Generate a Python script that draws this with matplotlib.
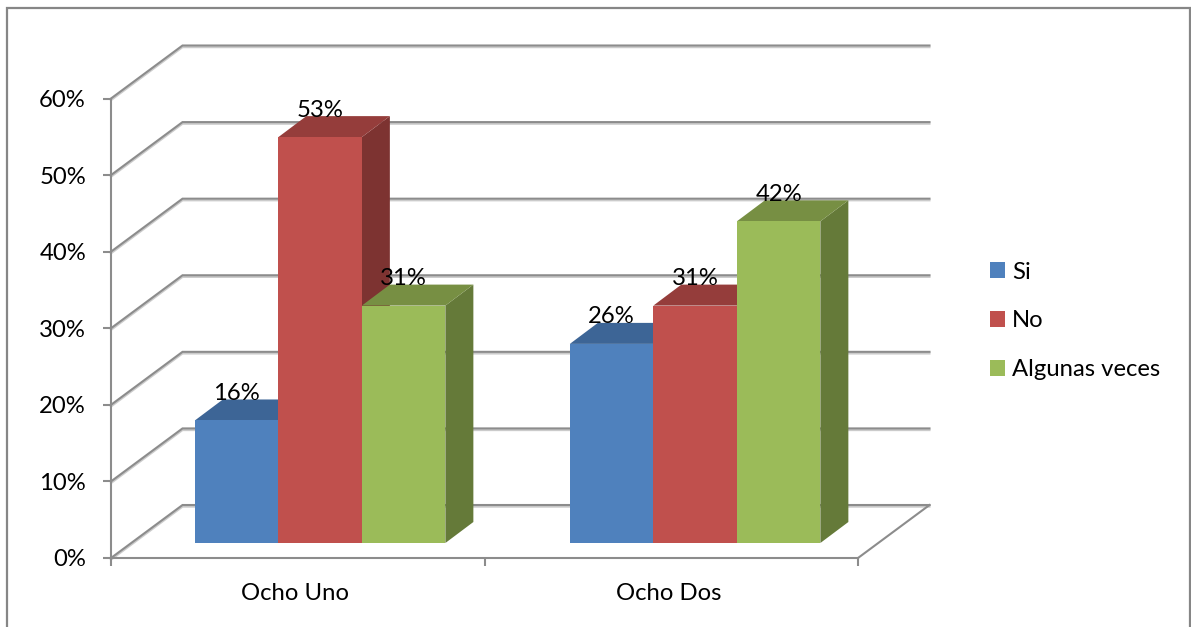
import matplotlib
matplotlib.use('Agg')
from matplotlib import pyplot as plt
from matplotlib.patches import Polygon, Patch, Rectangle
from matplotlib.transforms import ScaledTranslation
import matplotlib.patheffects as pe

plt.rcParams['font.family'] = ['Lato', 'DejaVu Sans']

categories = ['Ocho Uno', 'Ocho Dos']
series = ['Si', 'No', 'Algunas veces']
si = [16, 26]
no = [53, 31]
algunas = [31, 42]
values = [si, no, algunas]
yticks = [0, 10, 20, 30, 40, 50, 60]

front = ['#4F81BD', '#C0504D', '#9BBB59']
top = ['#3D6596', '#953D3B', '#778F43']
side = ['#335378', '#7D3331', '#657A39']
grey = '#8C8C8C'
fs = 17.2

W, H = 1191, 627
fig = plt.figure(figsize=(W/100, H/100), dpi=100, facecolor='white')
ax = fig.add_axes([111/W, (H-558)/H, 747/W, 459.5/H])
ax.set_xlim(0, 2)
ax.set_ylim(0, 60)
ax.patch.set_visible(False)

# oblique depth, in data units (1 cat = 373.5 px, 1% = 7.66 px)
wall_dx, wall_dy = 71.5/373.5, 53/7.66
bar_dx, bar_dy = 28/373.5, 21/7.66
off_dx, off_dy = 23.3/373.5, 15/7.66
bar_w = 83.5/373.5
centers = [0.4975, 1.5015]

shadow = [pe.SimpleLineShadow(offset=(0, -1.2), shadow_color='#999999', alpha=0.5), pe.Normal()]
for v in yticks:
    ax.plot([0, wall_dx, 2+wall_dx], [v, v+wall_dy, v+wall_dy], color=grey, lw=1.5,
            clip_on=False, zorder=1, path_effects=shadow, solid_joinstyle='miter')
ax.plot([2, 2+wall_dx], [0, wall_dy], color=grey, lw=1.5, clip_on=False, zorder=1)

for g in range(len(categories)):
    for s in range(len(series)):
        v = values[s][g]
        x0 = centers[g] + off_dx + (s-1.5)*bar_w
        x1 = x0 + bar_w
        y0 = off_dy
        y1 = off_dy + v
        ax.add_patch(Polygon([(x1, y0), (x1+bar_dx, y0+bar_dy), (x1+bar_dx, y1+bar_dy), (x1, y1)],
                             fc=side[s], ec='none', clip_on=False, zorder=2))
        ax.add_patch(Polygon([(x0, y1), (x0+bar_dx, y1+bar_dy), (x1+bar_dx, y1+bar_dy), (x1, y1)],
                             fc=top[s], ec='none', clip_on=False, zorder=2))
        ax.add_patch(Rectangle((x0, y0), bar_w, v, fc=front[s], ec='none', clip_on=False, zorder=2))
        ax.annotate('%d%%' % v, (x0+bar_w/2, y1), xytext=(0, 19.5), textcoords='offset points',
                    ha='center', va='center', fontsize=fs, color='black', zorder=5,
                    annotation_clip=False)

for name in ['top', 'right']:
    ax.spines[name].set_visible(False)
for name in ['left', 'bottom']:
    ax.spines[name].set_color(grey)
    ax.spines[name].set_linewidth(1.5)
    ax.spines[name].set_zorder(3)

ax.set_yticks(yticks)
ax.set_yticklabels(['%d%%' % v for v in yticks])
ax.set_xticks([0, 1, 2])
ax.set_xticklabels(['', '', ''])
ax.set_xticks([0.5, 1.5], minor=True)
ax.set_xticklabels(categories, minor=True)
ax.tick_params(axis='y', length=6, width=1.5, color=grey, pad=12, labelsize=fs)
ax.tick_params(axis='x', which='major', length=6, width=1.5, color=grey)
ax.tick_params(axis='x', which='minor', length=0, pad=18, labelsize=fs)
# category labels sit a little left of the centre of their slot
shift = ScaledTranslation(-3/100, 0, fig.dpi_scale_trans)
for lab in ax.get_xticklabels(minor=True):
    lab.set_transform(lab.get_transform() + shift)

handles = [Patch(fc=c, ec='none') for c in front]
fig.legend(handles, series, loc='center left', bbox_to_anchor=(990/W, (H-321)/H),
           frameon=False, fontsize=fs, handlelength=0.63, handleheight=0.63,
           handletextpad=0.3, labelspacing=1.17, borderpad=0, borderaxespad=0)

# outer frame, runs off the bottom of the picture
fig.add_artist(Rectangle((6.5/W, -20/H), (1190-6.5)/W, (H-7.5+20)/H, transform=fig.transFigure,
                         fc='none', ec='#868686', lw=1.6))

plt.savefig('out.png', dpi=100)
